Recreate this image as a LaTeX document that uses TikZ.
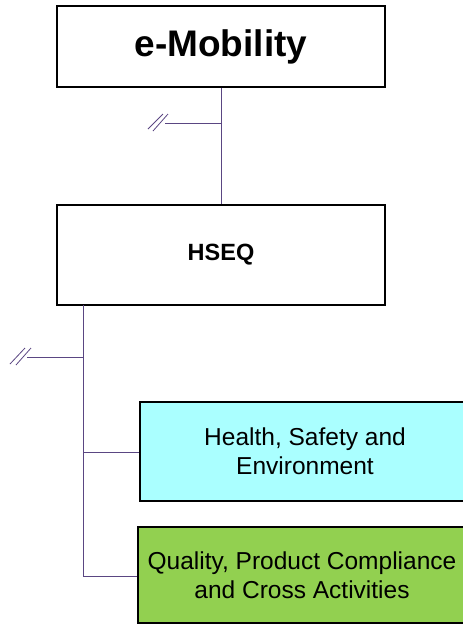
\documentclass[tikz,border=0pt]{standalone}
\usepackage{fontspec}
\setmainfont{Liberation Sans}
\definecolor{linkc}{RGB}{90,70,130}
\definecolor{hsefill}{RGB}{170,255,255}
\definecolor{qfill}{RGB}{146,208,80}
\tikzset{
  box/.style={draw=black, line width=1.6pt, inner sep=0pt, align=center},
  link/.style={draw=linkc, line width=0.9pt},
  slash/.style={draw=linkc, line width=0.8pt}
}
\begin{document}
\begin{tikzpicture}[x=1pt,y=-1pt]
\useasboundingbox (0,0) rectangle (463,625);
\clip (0,0) rectangle (463,625);
\node[box, minimum width=328pt, minimum height=81pt, font=\fontsize{37}{42}\selectfont\bfseries] (emob) at (221,46.5) {e-Mobility};
\node[box, minimum width=328pt, minimum height=100pt, font=\fontsize{23.5}{27}\selectfont\bfseries] (hseq) at (221,255) {HSEQ};
\node[box, fill=hsefill, minimum width=330pt, minimum height=99pt, font=\fontsize{24.5}{29}\selectfont] (hse) at (305,451.5) {Health, Safety and\\Environment};
\node[box, fill=qfill, minimum width=328pt, minimum height=96pt, font=\fontsize{24.5}{29}\selectfont] (qual) at (302,575) {Quality, Product Compliance\\and Cross Activities};
% top connector with side branch
\draw[link] (emob.south) -- (hseq.north);
\coordinate (b1) at (222,123);
\coordinate (b1e) at (165,123);
\draw[link] (b1) -- (b1e);
\draw[slash] (148,129) -- (163,114);
\draw[slash] (153,131) -- (168,114);
% lower trunk
\coordinate (t0) at (83,305);
\coordinate (t1) at (83,357);
\coordinate (t2) at (83,452);
\coordinate (t3) at (83,576);
\coordinate (b2e) at (27,357);
\draw[link] (t0) -- (t3);
\draw[link] (t1) -- (b2e);
\draw[slash] (10,364) -- (25,348);
\draw[slash] (16,365) -- (31,348);
\draw[link] (t2) -- (hse.west |- t2);
\draw[link] (t3) -- (qual.west |- t3);
\end{tikzpicture}
\end{document}
